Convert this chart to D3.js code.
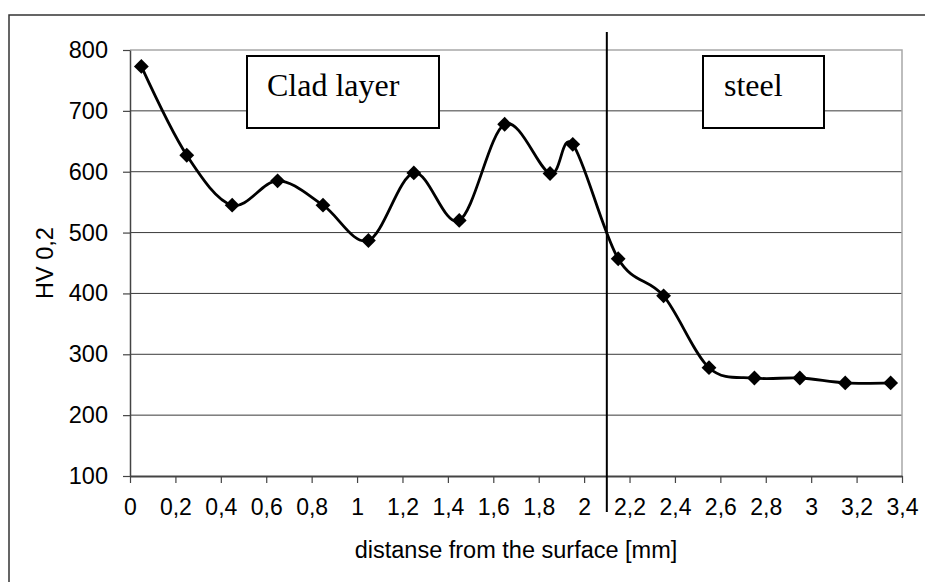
<!DOCTYPE html>
<html>
<head>
<meta charset="utf-8">
<script src="https://cdn.jsdelivr.net/npm/d3@7"></script>
<style>
  body { margin: 0; background: #fff; }
  svg { display: block; }
</style>
</head>
<body>
<svg id="chart" width="925" height="582"></svg>
<script>
// hardness profile data
const depth = [0.05, 0.25, 0.45, 0.65, 0.85, 1.05, 1.25, 1.45, 1.65, 1.85, 1.95, 2.15, 2.35, 2.55, 2.75, 2.95, 3.15, 3.35];
const hardness = [773, 627, 545, 585, 545, 487, 598, 520, 678, 597, 645, 457, 396, 278, 261, 261, 253, 253];
const xTicks = [0, 0.2, 0.4, 0.6, 0.8, 1, 1.2, 1.4, 1.6, 1.8, 2, 2.2, 2.4, 2.6, 2.8, 3, 3.2, 3.4];
const yTicks = [100, 200, 300, 400, 500, 600, 700, 800];
const boundary = 2.1;
const xTitle = 'distanse from the surface [mm]';
const yTitle = 'HV 0,2';

const svg = d3.select('#chart');
const plotL = 130, plotR = 902, plotT = 50, plotB = 476;
const sans = 'Liberation Sans, Arial, sans-serif';

const x = d3.scaleLinear().domain([0, 3.4]).range([plotL, plotR]);
const y = d3.scaleLinear().domain([100, 800]).range([plotB, plotT]);
const fmt = d => String(d).replace('.', ',');

// outer frame (cut off at right/bottom)
svg.append('rect')
  .attr('x', 9).attr('y', 15).attr('width', 940).attr('height', 600)
  .attr('fill', 'none').attr('stroke', '#333').attr('stroke-width', 1.5);

// gridlines
svg.append('g')
  .selectAll('line')
  .data(yTicks.filter(d => d > 100 && d < 800))
  .enter().append('line')
  .attr('x1', plotL).attr('x2', plotR)
  .attr('y1', d => y(d)).attr('y2', d => y(d))
  .attr('stroke', '#3a3a3a').attr('stroke-width', 1);

// plot border top/right (grey)
svg.append('path')
  .attr('d', `M${plotL},${y(800)}H${plotR}V${plotB}`)
  .attr('fill', 'none').attr('stroke', '#a8a8a8').attr('stroke-width', 1.5);

// y axis
const yAxis = svg.append('g')
  .attr('transform', `translate(${plotL},0)`)
  .call(d3.axisLeft(y).tickValues(yTicks).tickSize(7).tickSizeOuter(0).tickPadding(15));
yAxis.select('.domain').attr('stroke', '#444').attr('stroke-width', 1.5);
yAxis.selectAll('.tick line').attr('stroke', '#444').attr('stroke-width', 1.2);
yAxis.selectAll('text')
  .attr('font-family', sans)
  .attr('font-size', 23.5).attr('fill', '#000');

// x axis
const xAxis = svg.append('g')
  .attr('transform', `translate(0,${plotB})`)
  .call(d3.axisBottom(x).tickValues(xTicks).tickFormat(fmt).tickSize(7).tickSizeOuter(0).tickPadding(16));
xAxis.select('.domain').attr('stroke', '#444').attr('stroke-width', 2);
xAxis.selectAll('.tick line').attr('stroke', '#444').attr('stroke-width', 1.2);
xAxis.selectAll('text')
  .attr('font-family', sans)
  .attr('font-size', 23).attr('fill', '#000');

// axis titles
svg.append('text')
  .attr('x', (plotL + plotR) / 2).attr('y', 558)
  .attr('text-anchor', 'middle')
  .attr('font-family', sans)
  .attr('font-size', 23.5)
  .text(xTitle);
svg.append('text')
  .attr('transform', `translate(53,${(plotT + plotB) / 2}) rotate(-90)`)
  .attr('text-anchor', 'middle')
  .attr('font-family', sans)
  .attr('font-size', 23.5)
  .text(yTitle);

// boundary line clad / steel
svg.append('line')
  .attr('x1', x(boundary)).attr('x2', x(boundary))
  .attr('y1', 32).attr('y2', 512)
  .attr('stroke', '#000').attr('stroke-width', 2);

// region labels
const labels = [
  { text: 'Clad layer', x: 247, w: 192, tx: 267 },
  { text: 'steel', x: 703, w: 121, tx: 724 }
];
labels.forEach(l => {
  svg.append('rect')
    .attr('x', l.x).attr('y', 56).attr('width', l.w).attr('height', 72)
    .attr('fill', '#fff').attr('stroke', '#000').attr('stroke-width', 2);
  svg.append('text')
    .attr('x', l.tx).attr('y', 96)
    .attr('font-family', 'Liberation Serif, Times New Roman, serif')
    .attr('font-size', 32)
    .text(l.text);
});

// smoothed line
const pts = depth.map((d, i) => [d, hardness[i]]);
const line = d3.line()
  .x(d => x(d[0]))
  .y(d => y(d[1]))
  .curve(d3.curveCardinal.tension(0));
svg.append('path')
  .datum(pts)
  .attr('d', line)
  .attr('fill', 'none').attr('stroke', '#000').attr('stroke-width', 2.8);

// diamond markers
svg.append('g')
  .selectAll('path')
  .data(pts)
  .enter().append('path')
  .attr('d', d3.symbol().type(d3.symbolSquare).size(110))
  .attr('transform', d => `translate(${x(d[0])},${y(d[1])}) rotate(45)`)
  .attr('fill', '#000');
</script>
</body>
</html>
